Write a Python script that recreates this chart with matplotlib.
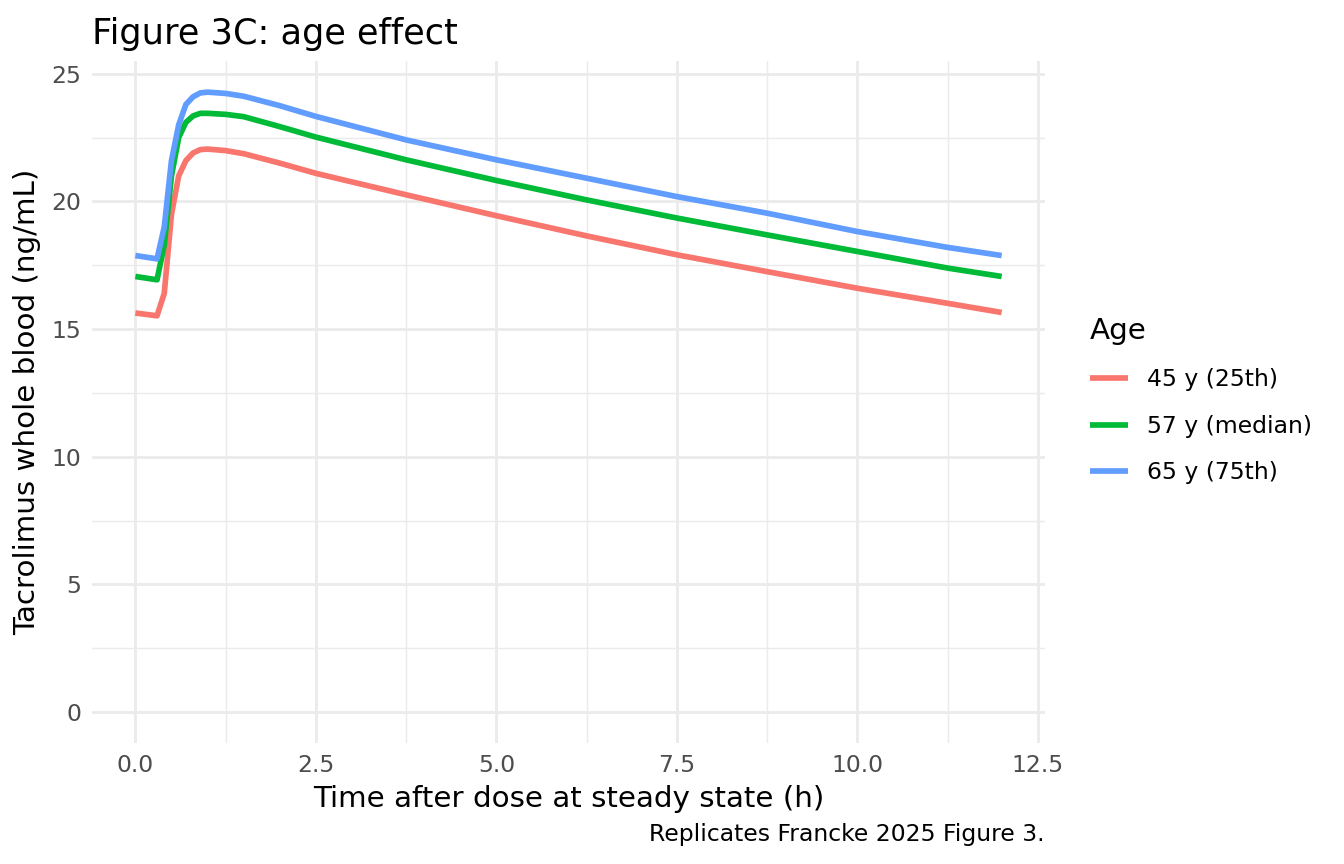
import numpy as np
import matplotlib.pyplot as plt
from matplotlib.ticker import MultipleLocator

# time grid (h) and concentrations (ng/mL)
time_h = [0.0, 0.3, 0.4, 0.5, 0.6, 0.7, 0.8, 0.9, 1.0, 1.25, 1.5, 2.0,
          2.5, 3.75, 5.0, 6.25, 7.5, 8.75, 10.0, 11.25, 12.0]

conc_45 = [15.63, 15.52, 16.4, 19.5, 21.0, 21.6, 21.9, 22.03, 22.05, 21.99, 21.87, 21.5,
           21.1, 20.26, 19.44, 18.65, 17.91, 17.25, 16.6, 16.01, 15.65]
conc_57 = [17.06, 16.93, 18.3, 21.0, 22.5, 23.1, 23.35, 23.45, 23.45, 23.41, 23.32, 22.93,
           22.52, 21.63, 20.82, 20.06, 19.35, 18.69, 18.04, 17.39, 17.06]
conc_65 = [17.88, 17.75, 19.0, 21.6, 23.0, 23.8, 24.1, 24.25, 24.28, 24.23, 24.12, 23.75,
           23.33, 22.41, 21.63, 20.91, 20.19, 19.54, 18.82, 18.2, 17.88]

labels = ["45 y (25th)", "57 y (median)", "65 y (75th)"]
colors = ["#F8766D", "#00BA38", "#619CFF"]

plt.rcParams["font.family"] = "DejaVu Sans"

fig = plt.figure(figsize=(7, 4.5), dpi=192)
ax = fig.add_axes([0.0685, 0.140, 0.709, 0.7894])

for y, lab, col in zip([conc_45, conc_57, conc_65], labels, colors):
    ax.plot(time_h, y, color=col, lw=2.13, label=lab, solid_capstyle="butt")

ax.set_xlim(-0.6, 12.6)
ax.set_ylim(-1.214, 25.5)
ax.xaxis.set_minor_locator(MultipleLocator(1.25))
ax.yaxis.set_major_locator(MultipleLocator(5))
ax.yaxis.set_minor_locator(MultipleLocator(2.5))
ax.set_xticks(np.arange(0, 12.6, 2.5))
ax.set_xticklabels([f"{v:.1f}" for v in np.arange(0, 12.6, 2.5)])

ax.grid(which="major", color="#EBEBEB", lw=1.07)
ax.grid(which="minor", color="#EBEBEB", lw=0.53)
ax.set_axisbelow(True)
for s in ax.spines.values():
    s.set_visible(False)
ax.tick_params(which="both", length=0)
ax.tick_params(axis="both", labelsize=8.8, labelcolor="#4D4D4D", pad=4)

ax.set_xlabel("Time after dose at steady state (h)", fontsize=11, labelpad=3)
ax.set_ylabel("Tacrolimus whole blood (ng/mL)", fontsize=11, labelpad=4)
ax.set_title("Figure 3C: age effect", fontsize=13.2, loc="left", pad=6.5)

leg = ax.legend(title="Age", loc="center left", bbox_to_anchor=(1.025, 0.502),
                frameon=False, fontsize=8.8, title_fontsize=11,
                handlelength=1.62, handletextpad=0.8, labelspacing=1.0,
                alignment="left")

fig.text(0.7775, 0.034, "Replicates Francke 2025 Figure 3.", ha="right", va="center",
         fontsize=8.8)

fig.savefig("out.png", dpi=192)
